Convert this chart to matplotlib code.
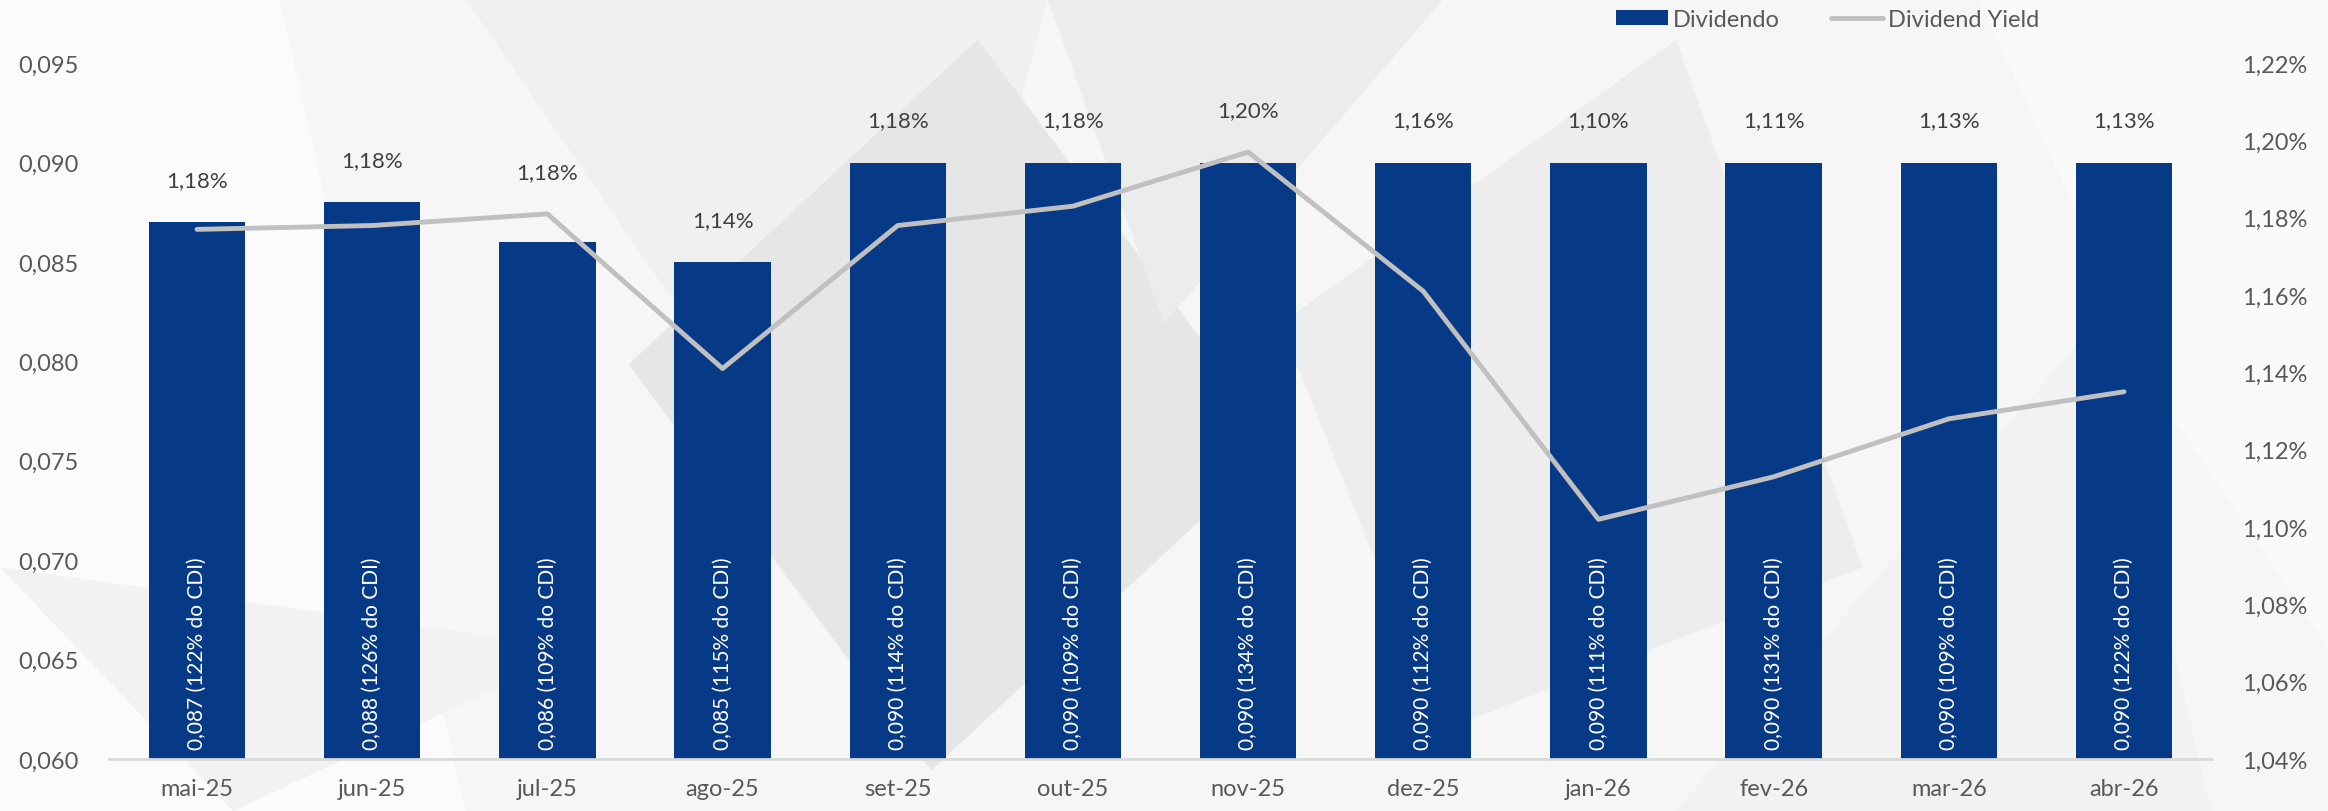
import matplotlib.pyplot as plt
import matplotlib.patches as pch
from matplotlib.ticker import FuncFormatter

navy = '#063a87'
gray_line = '#bfc0bf'
text_gray = '#595959'

months = ['mai-25', 'jun-25', 'jul-25', 'ago-25', 'set-25', 'out-25',
          'nov-25', 'dez-25', 'jan-26', 'fev-26', 'mar-26', 'abr-26']
dividend = [0.087, 0.088, 0.086, 0.085, 0.090, 0.090,
            0.090, 0.090, 0.090, 0.090, 0.090, 0.090]
cdi_pct = [122, 126, 109, 115, 114, 109, 134, 112, 111, 131, 109, 122]
dy_line = [1.177, 1.178, 1.181, 1.141, 1.178, 1.183,
           1.197, 1.161, 1.102, 1.113, 1.128, 1.135]
dy_label = [1.18, 1.18, 1.18, 1.14, 1.18, 1.18, 1.20, 1.16, 1.10, 1.11, 1.13, 1.13]

plt.rcParams['font.family'] = ['Lato', 'DejaVu Sans']

fig = plt.figure(figsize=(23.28, 8.12), dpi=100, facecolor='#f6f6f6')

# faint low-poly backdrop
bg = [([0.0, 0.0], [0.2, 0.0], [0.12, 1.0], [0.0, 1.0], '#fbfbfb'),
      ([0.2, 1.0], [0.45, 1.0], [0.38, 0.25], '#f0f0f0'),
      ([0.27, 0.55], [0.42, 0.95], [0.55, 0.45], [0.4, 0.05], '#e6e6e6'),
      ([0.45, 1.0], [0.62, 1.0], [0.5, 0.6], '#ececec'),
      ([0.55, 0.6], [0.72, 0.95], [0.8, 0.3], [0.62, 0.1], '#ededed'),
      ([0.72, 0.0], [0.95, 0.0], [0.9, 0.6], '#f2f2f2'),
      ([0.85, 1.0], [1.0, 1.0], [1.0, 0.2], [0.93, 0.5], '#fafafa'),
      ([0.0, 0.3], [0.1, 0.0], [0.25, 0.2], '#f2f2f2')]
for *pts, c in bg:
    fig.patches.append(pch.Polygon(pts, closed=True, transform=fig.transFigure,
                                   facecolor=c, edgecolor='none', zorder=-10))

ax = fig.add_axes([0.047, 0.064, 0.903, 0.857])
ax.patch.set_alpha(0)
ax2 = ax.twinx()

x = list(range(len(months)))
bars = ax.bar(x, dividend, width=0.55, color=navy, label='Dividendo', zorder=2)
line, = ax2.plot(x, dy_line, color=gray_line, lw=3.5, solid_capstyle='round',
                 label='Dividend Yield', zorder=3)

ax.set_ylim(0.060, 0.095)
ax2.set_ylim(1.04, 1.22)
ax.set_xlim(-0.5, len(months) - 0.5)
ax.set_yticks([0.060, 0.065, 0.070, 0.075, 0.080, 0.085, 0.090, 0.095])
ax2.set_yticks([1.04 + 0.02 * i for i in range(10)])
ax.yaxis.set_major_formatter(FuncFormatter(lambda v, p: f'{v:.3f}'.replace('.', ',')))
ax2.yaxis.set_major_formatter(FuncFormatter(lambda v, p: f'{v:.2f}%'.replace('.', ',')))
ax.set_xticks(x)
ax.set_xticklabels(months)

for a in (ax, ax2):
    for s in a.spines.values():
        s.set_visible(False)
    a.tick_params(length=0, labelsize=17, colors=text_gray)
ax.spines['bottom'].set_visible(True)
ax.spines['bottom'].set_color('#d9d9d9')
ax.spines['bottom'].set_linewidth(2)
ax.tick_params(axis='x', pad=14)
ax.tick_params(axis='y', pad=22)
ax2.tick_params(axis='y', pad=22)

# rotated labels inside bars
for xi, d, c in zip(x, dividend, cdi_pct):
    txt = f'{d:.3f} ({c}% do CDI)'.replace('.', ',')
    ax.text(xi, 0.0605, txt, rotation=90, ha='center', va='bottom',
            color='white', fontsize=15, zorder=4)

# yield labels above bar or line, whichever is higher
for xi, d, yv, lab in zip(x, dividend, dy_line, dy_label):
    yl = 0.060 + (yv - 1.04) / 0.18 * 0.035
    top = max(d, yl)
    ax.annotate(f'{lab:.2f}%'.replace('.', ','), (xi, top), xytext=(0, 42),
                textcoords='offset pixels', ha='center', va='center',
                fontsize=16, color='#404040', zorder=5)

leg = fig.legend([bars, line], ['Dividendo', 'Dividend Yield'], loc='center',
                 bbox_to_anchor=(0.785, 0.975), ncol=2, frameon=False,
                 fontsize=17, handlelength=2.2, handleheight=0.55,
                 columnspacing=2.2, handletextpad=0.2)
for t in leg.get_texts():
    t.set_color(text_gray)

fig.savefig('out.png', dpi=100, facecolor=fig.get_facecolor())
